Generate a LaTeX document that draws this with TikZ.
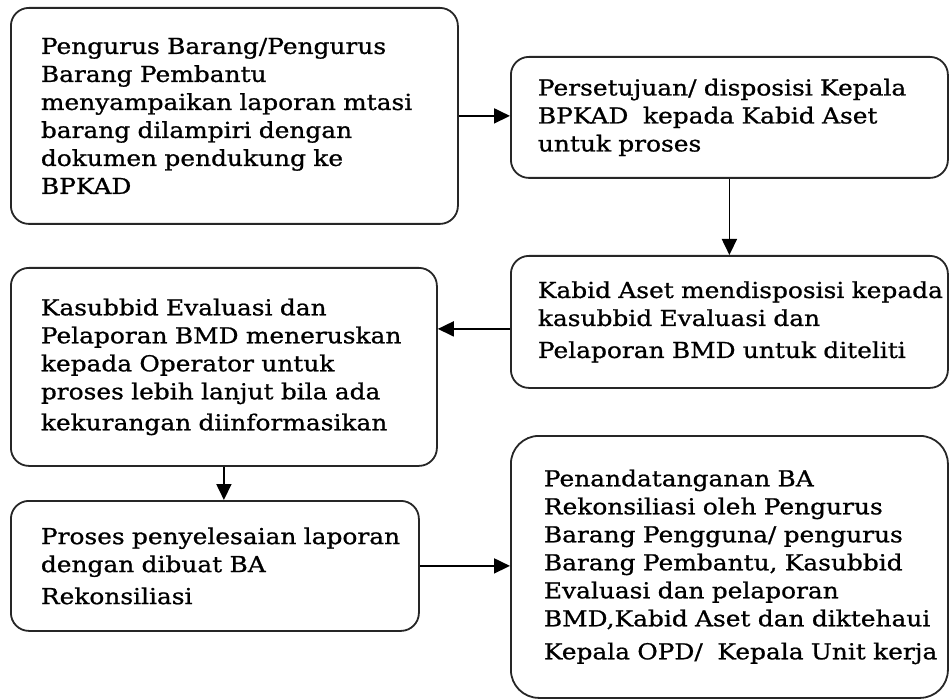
\documentclass[tikz,border=0pt]{standalone}
\usepackage{fontspec}
\setmainfont[FakeStretch=1.13, FakeBold=0.9]{DejaVu Serif}
\usetikzlibrary{arrows.meta}

\begin{document}
\begin{tikzpicture}[x=1pt, y=-1pt,
    box/.style={draw=black!85, line width=1.8pt, rounded corners=18pt,
      anchor=north west, align=left, inner xsep=2pt,
      execute at begin node={\leftskip=28pt\relax},
      font=\fontsize{22}{28}\selectfont},
    arr/.style={-{Triangle[length=16pt,width=15pt]}, line width=1.8pt}]
  \useasboundingbox (0,0) rectangle (949,700);

  \node[box, at={(10,7)}, text width=443pt, minimum height=216pt] (lapor)
    {Pengurus Barang/Pengurus\\ Barang Pembantu\\ menyampaikan laporan mtasi\\ barang dilampiri dengan\\ dokumen pendukung ke\\ BPKAD};
  \node[box, at={(510,56)}, text width=433pt, minimum height=121pt,
    execute at begin node={\leftskip=25pt\relax}] (setuju)
    {Persetujuan/ disposisi Kepala\\ BPKAD\ \ kepada Kabid Aset\\ untuk proses};
  \node[box, at={(510,255)}, text width=433pt, minimum height=132pt,
    execute at begin node={\leftskip=25pt\relax}] (kabid)
    {Kabid Aset mendisposisi kepada\\ kasubbid Evaluasi dan\\[4pt] Pelaporan BMD untuk diteliti};
  \node[box, at={(10,267)}, text width=422pt, minimum height=198pt] (kasub)
    {Kasubbid Evaluasi dan\\ Pelaporan BMD meneruskan\\ kepada Operator untuk\\ proses lebih lanjut bila ada\\[3pt] kekurangan diinformasikan};
  \node[box, at={(10,500)}, text width=404pt, minimum height=130pt] (proses)
    {Proses penyelesaian laporan\\ dengan dibuat BA\\[4pt] Rekonsiliasi};
  \node[box, at={(510,435)}, rounded corners=28pt, text width=433pt, minimum height=262pt,
    execute at begin node={\leftskip=31pt\relax}] (tanda)
    {Penandatanganan BA\\ Rekonsiliasi oleh Pengurus\\ Barang Pengguna/ pengurus\\ Barang Pembantu, Kasubbid\\ Evaluasi dan pelaporan\\ BMD,Kabid Aset dan diktehaui\\[5pt] Kepala OPD/\ \ Kepala Unit kerja};

  \draw[arr] (lapor.east) -- (lapor.east -| setuju.west);
  \draw[arr] (setuju.south) -- (kabid.north);
  \draw[arr] ([yshift=-7pt]kabid.west) -- ([yshift=-7pt]kabid.west -| kasub.east);
  \draw[arr] (kasub.south) -- (kasub.south |- proses.north);
  \draw[arr] (proses.east) -- (proses.east -| tanda.west);
\end{tikzpicture}
\end{document}
